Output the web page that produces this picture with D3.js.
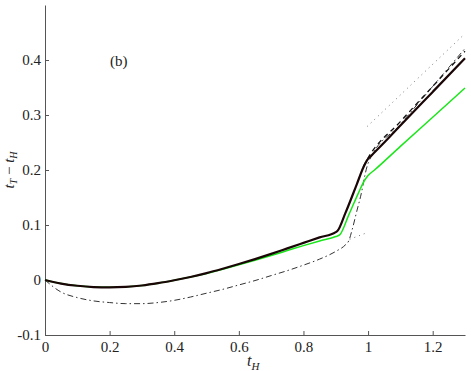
<!DOCTYPE html>
<meta charset="utf-8">
<style>
body { margin: 0; background: #fff; }
text { font-family: "Liberation Serif", "Times New Roman", serif; fill: #222; }
.axis path, .axis line { stroke: #555; }
.axis text { font-size: 15px; fill: #222; font-family: "Liberation Serif", "Times New Roman", serif; }
</style>
<svg id="chart" width="471" height="371"></svg>
<script src="https://cdn.jsdelivr.net/npm/d3@7"></script>
<script>

// x ticks and y ticks
const xTicks = [0, 0.2, 0.4, 0.6, 0.8, 1, 1.2]
const xTickLabels = ["0", "0.2", "0.4", "0.6", "0.8", "1", "1.2"]
const yTicks = [-0.1, 0, 0.1, 0.2, 0.3, 0.4]
const yTickLabels = ["-0.1", "0", "0.1", "0.2", "0.3", "0.4"]

// black solid curve
const blackT = [0, 0.05, 0.1, 0.15, 0.2, 0.25, 0.3, 0.35, 0.4, 0.45, 0.5, 0.55, 0.6, 0.65, 0.7, 0.75, 0.8, 0.85, 0.9, 0.905, 0.93, 0.965, 0.985, 0.997, 1.01, 1.05, 1.1, 1.2, 1.3]
const blackV = [0, -0.0065, -0.0105, -0.0128, -0.0134, -0.0125, -0.0100, -0.0058, -0.0005, 0.0055, 0.0125, 0.0205, 0.029, 0.038, 0.0475, 0.0575, 0.0675, 0.0775, 0.087, 0.089, 0.122, 0.174, 0.204, 0.218, 0.226, 0.250, 0.281, 0.342, 0.403]

// green solid curve
const greenT = [0, 0.05, 0.1, 0.15, 0.2, 0.25, 0.3, 0.35, 0.4, 0.45, 0.5, 0.55, 0.6, 0.65, 0.7, 0.75, 0.8, 0.85, 0.9, 0.912, 0.94, 0.97, 0.988, 1.0, 1.02, 1.1, 1.2, 1.3]
const greenV = [0, -0.0065, -0.0105, -0.0128, -0.0134, -0.0125, -0.0100, -0.0058, -0.0005, 0.0055, 0.012, 0.0195, 0.0275, 0.0358, 0.0445, 0.0535, 0.0625, 0.071, 0.079, 0.082, 0.118, 0.158, 0.180, 0.190, 0.200, 0.243, 0.296, 0.349]

// dashed curve (after the jump)
const dashT = [0.985, 1.0, 1.1, 1.2, 1.3]
const dashV = [0.206, 0.222, 0.288, 0.352, 0.416]

// dash-dot curve
const dashDotT = [0, 0.05, 0.1, 0.15, 0.2, 0.25, 0.3, 0.35, 0.4, 0.45, 0.5, 0.55, 0.6, 0.65, 0.7, 0.75, 0.8, 0.85, 0.9, 0.93, 0.94, 0.95, 0.965, 0.98, 0.99, 1.0, 1.1, 1.2, 1.3]
const dashDotV = [0, -0.022, -0.032, -0.038, -0.041, -0.043, -0.043, -0.041, -0.037, -0.031, -0.024, -0.017, -0.009, -0.001, 0.008, 0.017, 0.027, 0.038, 0.052, 0.064, 0.071, 0.090, 0.125, 0.160, 0.190, 0.212, 0.283, 0.352, 0.421]

// dotted segments
const dotLowT = [0.943, 0.992]
const dotLowV = [0.074, 0.085]
const dotHighT = [0.997, 1.3]
const dotHighV = [0.279, 0.448]

const margin = {top: 5, right: 6, bottom: 36, left: 45},
    width = 471 - margin.left - margin.right,
    height = 371 - margin.top - margin.bottom

const svg = d3.select("#chart")
  .append("g")
    .attr("transform", `translate(${margin.left}, ${margin.top})`)

const x = d3.scaleLinear().domain([0, 1.3]).range([0, width])
const y = d3.scaleLinear().domain([-0.1, 0.5]).range([height, 0])

const xAxis = d3.axisBottom(x)
  .tickValues(xTicks)
  .tickFormat((d, i) => xTickLabels[i])
  .tickSizeInner(-4)
  .tickSizeOuter(0)
  .tickPadding(6)

const yAxis = d3.axisLeft(y)
  .tickValues(yTicks)
  .tickFormat((d, i) => yTickLabels[i])
  .tickSizeInner(-4)
  .tickSizeOuter(0)
  .tickPadding(4)

svg.append("g")
    .attr("class", "axis")
    .attr("transform", `translate(0, ${height})`)
  .call(xAxis)

svg.append("g")
    .attr("class", "axis")
  .call(yAxis)

const line = d3.line()
  .x(d => x(d[0]))
  .y(d => y(d[1]))
  .curve(d3.curveMonotoneX)

const zip = (a, b) => a.map((d, i) => [d, b[i]])

function drawLine(ts, vs, color, w, dash) {
  svg.append("path")
    .attr("d", line(zip(ts, vs)))
    .attr("fill", "none")
    .attr("stroke", color)
    .attr("stroke-width", w)
    .attr("stroke-dasharray", dash)
}

drawLine(dotLowT, dotLowV, "#777", 1, "1,4")
drawLine(dotHighT, dotHighV, "#777", 1, "1,4")
drawLine(dashDotT, dashDotV, "#333", 1, "6,3,1.5,3")
drawLine(dashT, dashV, "#111", 1.3, "5,4")
drawLine(greenT, greenV, "#19e619", 1.5, null)
drawLine(blackT, blackV, "#1a0606", 2.2, null)

// panel label
svg.append("text")
    .attr("x", 65)
    .attr("y", 61)
    .style("font-size", "15px")
    .text("(b)")

// x label
const xl = svg.append("text")
    .attr("x", 202)
    .attr("y", 361)
    .style("font-size", "16px")
    .style("font-style", "italic")
xl.append("tspan").text("t")
xl.append("tspan").attr("dy", 4).style("font-size", "11px").text("H")

// y label
const yl = svg.append("text")
    .attr("transform", `translate(${-31}, ${height / 2}) rotate(-90)`)
    .attr("text-anchor", "middle")
    .style("font-size", "15px")
yl.append("tspan").style("font-style", "italic").text("t")
yl.append("tspan").attr("dy", 3).style("font-size", "10px").style("font-style", "italic").text("T")
yl.append("tspan").attr("dy", -3).text(" \u2212 ")
yl.append("tspan").style("font-style", "italic").text("t")
yl.append("tspan").attr("dy", 3).style("font-size", "10px").style("font-style", "italic").text("H")

</script>
